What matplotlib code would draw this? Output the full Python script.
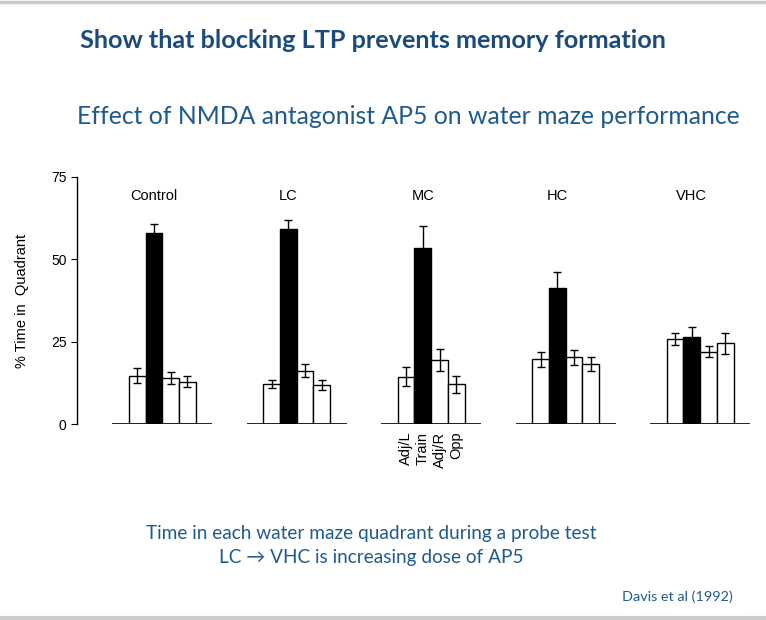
import matplotlib.pyplot as plt
import numpy as np

groups = ['Control', 'LC', 'MC', 'HC', 'VHC']
quadrants = ['Adj/L', 'Train', 'Adj/R', 'Opp']

# % time in quadrant, columns = Adj/L, Train, Adj/R, Opp
means = np.array([
    [14.7, 58.0, 14.0, 12.8],
    [12.2, 59.2, 16.2, 11.8],
    [14.4, 53.4, 19.5, 12.1],
    [19.6, 41.2, 20.3, 18.2],
    [25.8, 26.4, 22.0, 24.5],
])
errs = np.array([
    [2.2, 2.6, 1.9, 1.7],
    [1.2, 2.8, 2.0, 1.5],
    [2.8, 6.7, 3.3, 2.6],
    [2.2, 5.1, 2.3, 2.0],
    [1.9, 3.0, 1.6, 3.2],
])

W, H = 766, 620
fig = plt.figure(figsize=(W / 100, H / 100), dpi=100)
plt.rcParams['font.family'] = ['Liberation Sans', 'DejaVu Sans']
blue = '#1e5a8e'

# slide border lines
fig.add_artist(plt.Line2D([0, 1], [1 - 1.5 / H, 1 - 1.5 / H], color='#cccccc', lw=2.5))
fig.add_artist(plt.Line2D([0, 1], [2 / H, 2 / H], color='#cccccc', lw=3))

# headings
fig.text(80 / W, 1 - 41 / H, 'Show that blocking LTP prevents memory formation',
         family='Lato', weight='bold', fontsize=18.2, color='#1b4b7c', va='center')
fig.text(408 / W, 1 - 117 / H, 'Effect of NMDA antagonist AP5 on water maze performance',
         family='Lato', fontsize=17.8, color=blue, va='center', ha='center')

ax = fig.add_axes([77 / W, 1 - 424 / H, (762 - 77) / W, (424 - 177) / H])

step = 8.05
for i, g in enumerate(groups):
    x0 = 3.1 + step * i
    xs = x0 + np.arange(4) + 0.5
    colors = ['white', 'black', 'white', 'white']
    ax.bar(xs, means[i], width=1.0, color=colors, edgecolor='black', linewidth=1.0, zorder=2)
    ax.errorbar(xs, means[i], yerr=errs[i], fmt='none', ecolor='black',
                elinewidth=1.0, capsize=3, capthick=1.0, zorder=3)
    ax.hlines(0, x0 - 1, x0 + 5, color='black', lw=1.2, zorder=4)
    ax.text(x0 + 1.5, 69.3, g, ha='center', va='center', fontsize=10.5)
    if g == 'MC':
        for x, q in zip(xs, quadrants):
            ax.text(x, -2.3, q, rotation=90, ha='center', va='top', fontsize=10.5)

ax.set_xlim(0, 41)
ax.set_ylim(0, 75)
ax.set_yticks([0, 25, 50, 75])
ax.set_xticks([])
for s in ['top', 'right', 'bottom']:
    ax.spines[s].set_visible(False)
ax.spines['left'].set_linewidth(1.0)
ax.tick_params(axis='y', length=4, labelsize=10, direction='out')
ax.set_ylabel('% Time in  Quadrant', fontsize=10.5, labelpad=16)

# caption
fig.text(371 / W, 1 - 534 / H, 'Time in each water maze quadrant during a probe test',
         family='Lato', fontsize=13.7, color=blue, ha='center', va='center')
fig.text(371 / W, 1 - 558 / H, 'LC \u2192 VHC is increasing dose of AP5',
         family=['Lato', 'DejaVu Sans'], fontsize=13.7, color=blue, ha='center', va='center')
fig.text(677 / W, 1 - 597 / H, 'Davis et al (1992)',
         family='Lato', fontsize=10.4, color=blue, ha='center', va='center')

fig.savefig('out.png', dpi=100)
